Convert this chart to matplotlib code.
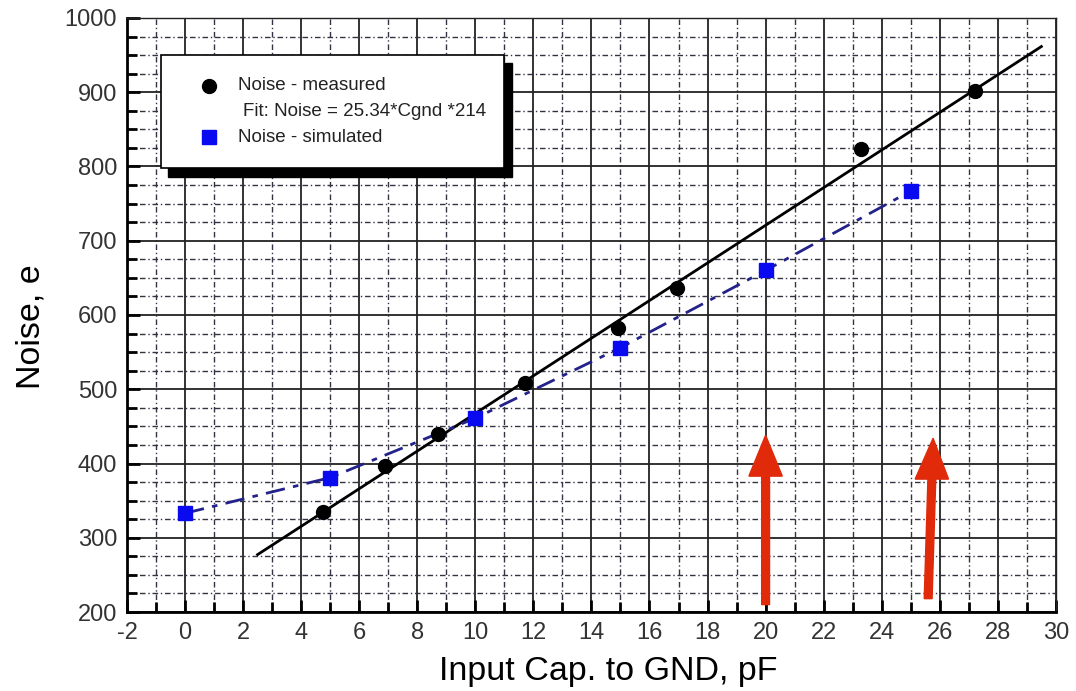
"""Amplifier noise vs. input capacitance to GND: measured points with linear fit
and simulated curve."""

import matplotlib

matplotlib.use("Agg")
import matplotlib.pyplot as plt  # noqa: E402
import numpy as np  # noqa: E402
from matplotlib.patches import FancyArrow, Rectangle  # noqa: E402
from matplotlib.lines import Line2D  # noqa: E402

plt.rcParams["font.family"] = ["Liberation Sans", "DejaVu Sans"]
plt.rcParams["axes.unicode_minus"] = False

# measured noise (electrons) vs input capacitance (pF)
cap_meas = [4.75, 6.9, 8.7, 11.7, 14.9, 16.95, 23.3, 27.2]
noise_meas = [335, 397, 440, 509, 583, 637, 824, 901]

# linear fit: Noise = 25.34 * Cgnd + 214
fit_slope = 25.34
fit_offset = 214
fit_range = [2.5, 29.5]

# simulated noise
cap_sim = [0, 5, 10, 15, 20, 25]
noise_sim = [333, 381, 461, 556, 660, 767]

BLUE = "#0a0af0"
NAVY = "#22228a"
RED = "#e02a0a"

fig = plt.figure(figsize=(10.76, 6.91), dpi=100)
ax = fig.add_axes([0.118, 0.1143, 0.8633, 0.8597])

# grid: solid majors, dash-dot minors
ax.set_xlim(-2, 30)
ax.set_ylim(200, 1000)
ax.set_xticks(np.arange(-2, 31, 2))
ax.set_xticks(np.arange(-2, 31, 1), minor=True)
ax.set_yticks(np.arange(200, 1001, 100))
ax.set_yticks(np.arange(200, 1001, 25), minor=True)
ax.grid(which="major", color="#222222", lw=1.3, ls="-")
ax.grid(which="minor", color="#333344", lw=1.0, ls=(0, (4, 2, 1, 2)))
ax.set_axisbelow(True)

for s in ax.spines.values():
    s.set_linewidth(1.0)
    s.set_color("#222222")
for side in ("left", "bottom"):
    ax.spines[side].set_linewidth(2.0)
    ax.spines[side].set_color("black")

ax.tick_params(which="both", direction="in", top=False, right=False,
               labelsize=17, labelcolor="#333333", width=2.0, color="black")
ax.tick_params(which="major", length=9, pad=7)
ax.tick_params(which="minor", length=7)

ax.set_xlabel("Input Cap. to GND, pF", fontsize=24.5)
ax.xaxis.set_label_coords(0.518, -0.074)
ax.set_ylabel("Noise, e", fontsize=24.5)
ax.yaxis.set_label_coords(-0.087, 0.48)

# fit line and measured points
xf = np.array(fit_range)
ax.plot(xf, fit_slope * xf + fit_offset, color="black", lw=2.0, zorder=3)
ax.plot(cap_meas, noise_meas, "o", color="black", ms=10, zorder=4)

# simulated curve
ax.plot(cap_sim, noise_sim, color=NAVY, lw=2.0, ls=(0, (7, 3, 2, 3)), zorder=3)
ax.plot(cap_sim, noise_sim, "s", color=BLUE, mec=BLUE, ms=10, zorder=4)

# red arrows pointing up from the x axis
arrow_kw = dict(width=0.27, head_width=1.15, head_length=55, length_includes_head=True,
                color=RED, zorder=5)
ax.add_patch(FancyArrow(20.0, 210, 0, 228, **arrow_kw))
ax.add_patch(FancyArrow(25.6, 218, 0.17, 216, **arrow_kw))

# boxed legend with a solid drop shadow
W, H = 1076, 691


def fx(px):
    return px / W


def fy(py):
    return 1 - py / H


fig.patches.append(Rectangle((fx(168), fy(177)), fx(512) - fx(168), fy(63) - fy(177),
                             transform=fig.transFigure, facecolor="black",
                             edgecolor="black", zorder=6))
fig.patches.append(Rectangle((fx(161), fy(168)), fx(504) - fx(161), fy(55) - fy(168),
                             transform=fig.transFigure, facecolor="white",
                             edgecolor="black", lw=1.2, zorder=7))
fig.add_artist(Line2D([fx(209)], [fy(86)], marker="o", color="black", ms=10,
                      transform=fig.transFigure, zorder=8))
fig.add_artist(Line2D([fx(209)], [fy(137)], marker="s", color=BLUE, ms=10,
                      transform=fig.transFigure, zorder=8))
leg_txt = dict(fontsize=13.5, color="#222222", va="center", ha="left",
               transform=fig.transFigure, zorder=8)
fig.text(fx(238), fy(86), "Noise - measured", **leg_txt)
fig.text(fx(243), fy(112), "Fit: Noise = 25.34*Cgnd *214", **leg_txt)
fig.text(fx(238), fy(137), "Noise - simulated", **leg_txt)

fig.savefig("out.png", dpi=100)
